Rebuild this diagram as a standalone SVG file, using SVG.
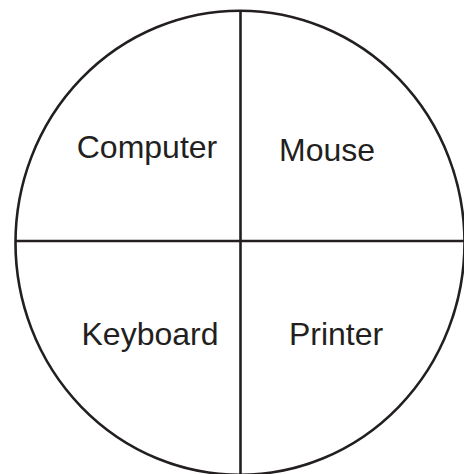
<svg xmlns="http://www.w3.org/2000/svg" width="464" height="474" viewBox="0 0 464 474">
<style>
.ln{fill:none;stroke:#231f20;stroke-width:2.6}
.lb{font-family:"Liberation Sans",Arial,sans-serif;font-size:32px;fill:#231f20;text-anchor:middle}
</style>
<rect width="464" height="474" fill="#ffffff"/>
<g id="connectors">
<ellipse class="ln" cx="240" cy="242.75" rx="224.5" ry="232"/>
<line class="ln" x1="240.5" y1="10.5" x2="240.5" y2="474"/>
<line class="ln" x1="15.5" y1="241" x2="464" y2="241"/>
</g>
<g id="computer"><text class="lb" x="147" y="158">Computer</text></g>
<g id="mouse"><text class="lb" x="327" y="160.5">Mouse</text></g>
<g id="keyboard"><text class="lb" x="150" y="345">Keyboard</text></g>
<g id="printer"><text class="lb" x="336" y="345">Printer</text></g>
</svg>
